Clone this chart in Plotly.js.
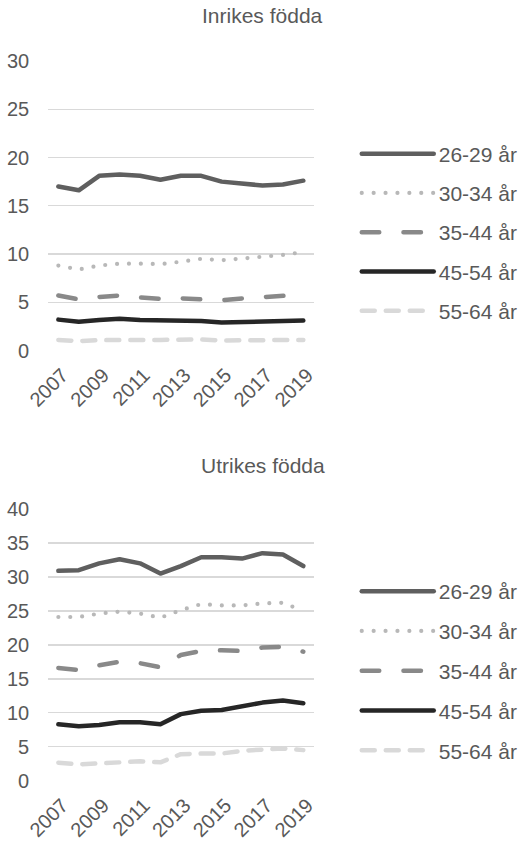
<!DOCTYPE html>
<html>
<head>
<meta charset="utf-8">
<script src="https://cdn.plot.ly/plotly-3.0.1.min.js"></script>
<style>
html,body{margin:0;padding:0;background:#fff;}
#chart{width:523px;height:842px;}
.main-svg .js-line { stroke-linecap: round; stroke-linejoin: round; }
</style>
</head>
<body>
<div id="chart"></div>
<script>
// Categories (years) and tick labels
const years = ['2007','2008','2009','2010','2011','2012','2013','2014','2015','2016','2017','2018','2019'];
const xTickLabels = ['2007','2009','2011','2013','2015','2017','2019'];
const seriesNames = ['26-29 år','30-34 år','35-44 år','45-54 år','55-64 år'];
const titleTop = 'Inrikes födda';
const titleBottom = 'Utrikes födda';
const yTicksTop = [0,5,10,15,20,25,30];
const yTicksBottom = [0,5,10,15,20,25,30,35,40];

// Inrikes födda
const in26 = [17.0,16.6,18.1,18.25,18.1,17.7,18.1,18.1,17.5,17.3,17.1,17.2,17.6];
const in30 = [8.8,8.4,8.8,9.0,9.0,8.95,9.2,9.5,9.35,9.5,9.7,9.9,10.2];
const in35 = [5.7,5.3,5.55,5.7,5.5,5.35,5.4,5.3,5.2,5.4,5.5,5.7,5.8];
const in45 = [3.2,2.97,3.15,3.3,3.15,3.1,3.15,3.05,2.9,2.97,2.97,3.0,3.1];
const in55 = [1.1,0.97,1.07,1.14,1.1,1.1,1.17,1.14,1.04,1.07,1.07,1.1,1.1];

// Utrikes födda
const ut26 = [30.9,31.0,32.0,32.6,32.0,30.5,31.6,32.9,32.9,32.7,33.5,33.3,31.6];
const ut30 = [24.1,24.1,24.6,24.9,24.6,24.0,25.1,26.0,25.8,25.8,26.1,26.2,25.0];
const ut35 = [16.6,16.3,17.0,17.5,17.3,16.7,18.5,19.1,19.2,19.1,19.6,19.7,19.0];
const ut45 = [8.3,8.0,8.2,8.6,8.6,8.3,9.8,10.3,10.4,11.0,11.5,11.8,11.4];
const ut55 = [2.65,2.4,2.55,2.75,2.85,2.7,3.9,4.0,4.0,4.4,4.6,4.75,4.5];

const W = 523, H = 842;
const styles = [
  {color:'#5f5f5f', dash:'solid', width:4.5},
  {color:'#b8b8b8', dash:'0px,11.9px', width:4.2},
  {color:'#898989', dash:'17.5px,24.2px', width:4.5},
  {color:'#262626', dash:'solid', width:4.5},
  {color:'#d9d9d9', dash:'13px,11px', width:4.5}
];
const txt = '#595959';
const fontFam = '"Liberation Sans", Arial, sans-serif';
const FS = 21;     // titles and legend
const TFS = 20;    // tick labels

function makeTraces(dataSets, xa, ya, leg) {
  return dataSets.map((d, i) => ({
    type:'scatter', mode:'lines', x: years, y: d, name: seriesNames[i],
    xaxis: xa, yaxis: ya, legend: leg, legendgroup: leg + i,
    line: {color: styles[i].color, width: styles[i].width, dash: styles[i].dash},
    hoverinfo:'skip'
  }));
}

const traces = [
  ...makeTraces([in26,in30,in35,in45,in55], 'x', 'y', 'legend'),
  ...makeTraces([ut26,ut30,ut35,ut45,ut55], 'x2', 'y2', 'legend2')
];

const px = v => v / W;
const py = v => 1 - v / H;

const xBase = {
  type:'category', range:[-0.5, 12.5], tickmode:'array', tickvals: xTickLabels, ticktext: xTickLabels,
  tickangle:-45, showgrid:false, zeroline:false, showline:false, ticks:'',
  ticklabelstandoff:8, ticklabelshift:4,
  tickfont:{family:fontFam, size:TFS, color:txt}, fixedrange:true, automargin:false
};
const yBase = {
  showgrid:true, gridcolor:'#d9d9d9', gridwidth:1.4, zeroline:false, showline:false, ticks:'',
  tickfont:{family:fontFam, size:TFS, color:txt}, ticklabelstandoff:18, fixedrange:true, automargin:false
};

const legBase = {xanchor:'left', yanchor:'top', itemwidth:72,
  font:{family:fontFam, size:FS, color:txt}, bgcolor:'rgba(0,0,0,0)', itemclick:false, itemdoubleclick:false};

const layout = {
  width: W, height: H,
  margin:{l:0, r:0, t:0, b:0},
  paper_bgcolor:'#fff', plot_bgcolor:'#fff',
  font:{family:fontFam, color:txt},
  showlegend:true,
  xaxis: Object.assign({}, xBase, {domain:[px(49), px(319)], anchor:'y'}),
  yaxis: Object.assign({}, yBase, {domain:[py(350.5), py(61)], range:[0,30], tickvals:yTicksTop, anchor:'x'}),
  xaxis2: Object.assign({}, xBase, {domain:[px(49), px(319)], anchor:'y2'}),
  yaxis2: Object.assign({}, yBase, {domain:[py(780.7), py(509)], range:[0,40], tickvals:yTicksBottom, anchor:'x2'}),
  legend: Object.assign({}, legBase, {x: px(363), y: py(133.5), tracegroupgap:9}),
  legend2: Object.assign({}, legBase, {x: px(363), y: py(571), tracegroupgap:9.5}),
  annotations: [
    {text:titleTop, xref:'paper', yref:'paper', x:px(267.5), y:py(16), xanchor:'center', yanchor:'middle',
     showarrow:false, font:{family:fontFam, size:FS, color:txt}},
    {text:titleBottom, xref:'paper', yref:'paper', x:px(267.5), y:py(466), xanchor:'center', yanchor:'middle',
     showarrow:false, font:{family:fontFam, size:FS, color:txt}}
  ]
};

Plotly.newPlot('chart', traces, layout, {staticPlot:true, displayModeBar:false, responsive:false});
</script>
</body>
</html>
